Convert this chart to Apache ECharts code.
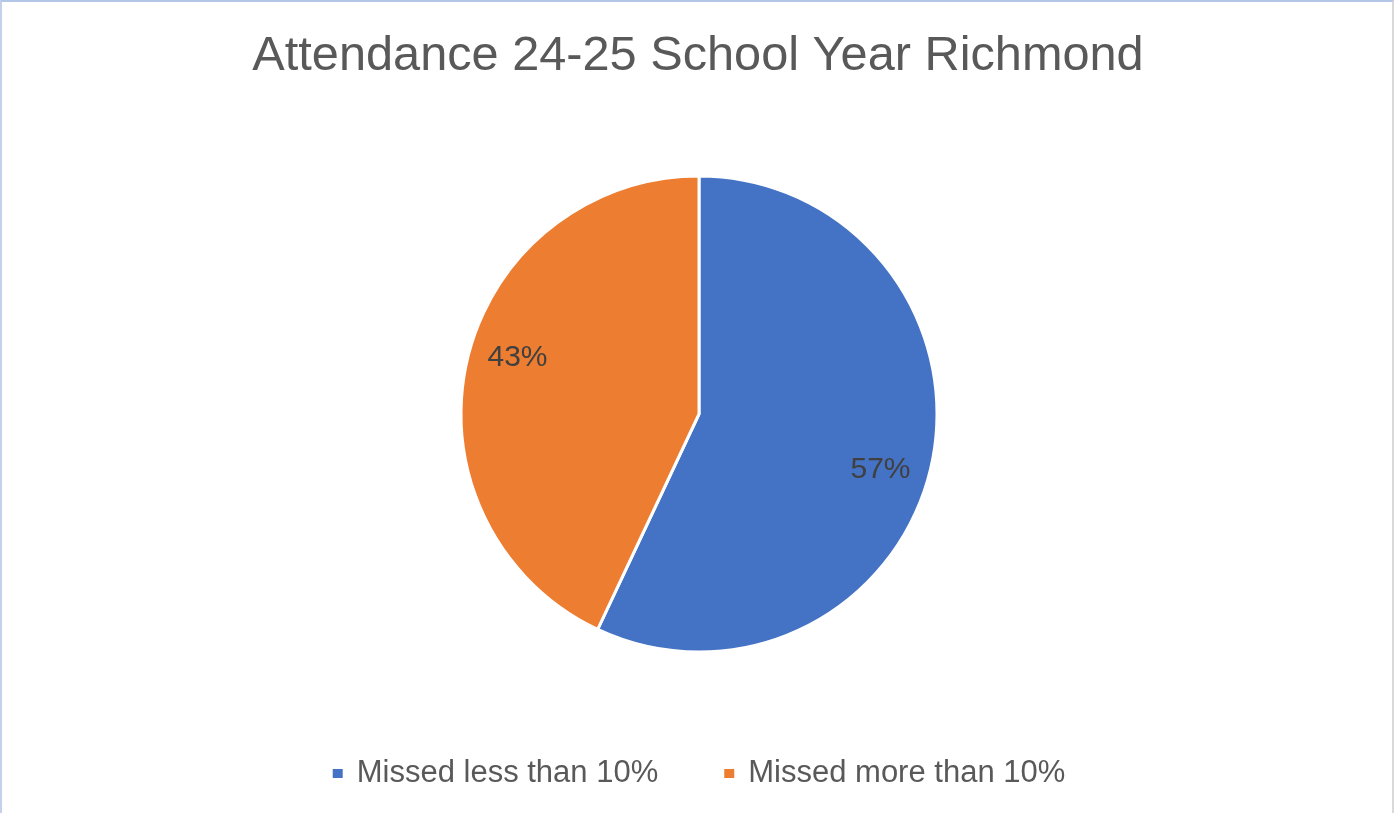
<!DOCTYPE html>
<html>
<head>
<meta charset="utf-8">
<script src="https://cdn.jsdelivr.net/npm/echarts@6/dist/echarts.min.js"></script>
<style>
  html, body { margin: 0; padding: 0; background: #fff; }
  #frame { position: absolute; left: 0; top: 0; width: 1394px; height: 813px; box-sizing: border-box;
           border-top: 2px solid #b4c6e7; border-left: 2px solid #c5d1ea; border-right: 2px solid #d9d9d9; }
  #chart { position: absolute; left: 0; top: 0; width: 1396px; height: 813px; }
</style>
</head>
<body>
<div id="frame"></div>
<div id="chart"></div>
<script>
const titleText = 'Attendance 24-25 School Year Richmond';
const categories = ['Missed less than 10%', 'Missed more than 10%'];
const values = [57, 43];
const colors = ['#4472c4', '#ed7d31'];

const pieData = categories.map((c, i) => ({ name: c, value: values[i], itemStyle: { color: colors[i] } }));
const total = values.reduce((a, b) => a + b, 0);

const chart = echarts.init(document.getElementById('chart'), null, { renderer: 'canvas' });
chart.setOption({
  backgroundColor: 'transparent',
  animation: false,
  title: {
    text: titleText,
    left: 'center',
    top: 27,
    textStyle: { fontFamily: 'Liberation Sans', fontSize: 48.7, fontWeight: 'normal', color: '#595959' }
  },
  legend: {
    data: categories,
    top: 753,
    left: 'center',
    icon: 'rect',
    itemWidth: 12,
    itemHeight: 11,
    itemGap: 64,
    textStyle: { fontFamily: 'Liberation Sans', fontSize: 31, color: '#595959', padding: [0, 0, 0, 8] }
  },
  series: [
    {
      type: 'pie',
      center: [699, 414],
      radius: [0, 238],
      startAngle: 90,
      clockwise: true,
      silent: true,
      itemStyle: { borderColor: '#ffffff', borderWidth: 3 },
      label: { show: false },
      labelLine: { show: false },
      data: pieData
    },
    {
      type: 'pie',
      center: [699, 414],
      radius: [155, 219],
      startAngle: 85.4,
      clockwise: true,
      silent: true,
      legendHoverLink: false,
      itemStyle: { color: 'rgba(0,0,0,0)', borderWidth: 0 },
      label: {
        show: true,
        position: 'inside',
        formatter: p => Math.round(p.value / total * 100) + '%',
        fontFamily: 'Liberation Sans',
        fontSize: 30,
        color: '#404040'
      },
      labelLine: { show: false },
      data: categories.map((c, i) => ({ name: c + ' ', value: values[i] }))
    }
  ]
});
</script>
</body>
</html>
